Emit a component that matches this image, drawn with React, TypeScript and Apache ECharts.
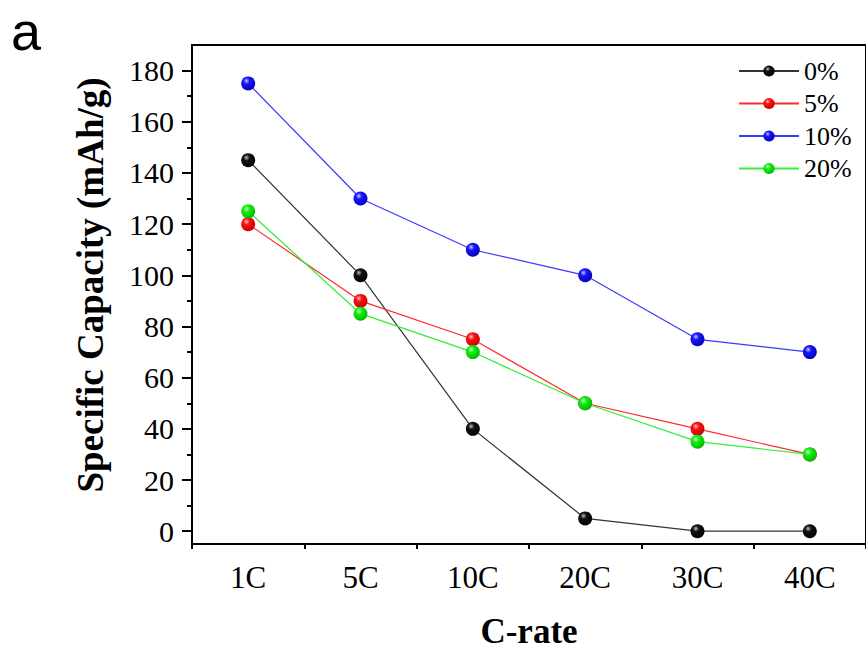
import React, { useEffect, useRef } from "react";
import * as echarts from "echarts";

const categories = ["1C", "5C", "10C", "20C", "30C", "40C"];
const seriesNames = ["0%", "5%", "10%", "20%"];
const values0 = [145, 100, 40, 5, 0, 0];
const values5 = [120, 90, 75, 50, 40, 30];
const values10 = [175, 130, 110, 100, 75, 70];
const values20 = [125, 85, 70, 50, 35, 30];
const yMajorTicks = [0, 20, 40, 60, 80, 100, 120, 140, 160, 180];
const yMinorTicks = [10, 30, 50, 70, 90, 110, 130, 150, 170];

const SERIF = "'Liberation Serif', 'Times New Roman', serif";

function sphere(base: string, light: string, dark: string) {
  return {
    type: "radial",
    x: 0.38,
    y: 0.32,
    r: 0.75,
    colorStops: [
      { offset: 0, color: light },
      { offset: 0.3, color: base },
      { offset: 1, color: dark },
    ],
  };
}

export default function App() {
  const ref = useRef<HTMLDivElement>(null);
  useEffect(() => {
    if (!ref.current) return;
    const chart = echarts.init(ref.current, null, { renderer: "svg" });
    const colors = [
      { line: "#333333", fill: sphere("#111111", "#bbbbbb", "#000000") },
      { line: "#ff2a2a", fill: sphere("#ff1010", "#ffc8c8", "#c00000") },
      { line: "#3a3aff", fill: sphere("#1515ff", "#c8c8ff", "#0000b0") },
      { line: "#33ee33", fill: sphere("#10f010", "#d0ffd0", "#00b000") },
    ];
    const data = [values0, values5, values10, values20];
    chart.setOption({
      animation: false,
      grid: {
        left: 192,
        top: 45,
        right: -2,
        bottom: 110,
        show: true,
        borderColor: "#000",
        borderWidth: 2,
      },
      graphic: [
        {
          type: "text",
          left: 11,
          top: 4,
          style: {
            text: "a",
            font: "54px 'Liberation Sans', Arial, sans-serif",
            fill: "#000",
          },
        },
      ],
      legend: {
        orient: "vertical",
        left: 733,
        top: 53,
        itemWidth: 60,
        itemHeight: 14,
        itemGap: 6.5,
        data: seriesNames,
        textStyle: {
          fontFamily: SERIF,
          fontSize: 26,
          lineHeight: 26,
          color: "#000",
        },
      },
      xAxis: [
        {
          type: "category",
          data: categories,
          boundaryGap: true,
          position: "bottom",
          axisLine: { onZero: false, lineStyle: { color: "#000", width: 2 } },
          axisTick: { alignWithLabel: true, length: 10, lineStyle: { color: "#000", width: 2 } },
          axisLabel: { fontFamily: SERIF, fontSize: 31, color: "#000", margin: 18 },
          name: "C-rate",
          nameLocation: "middle",
          nameGap: 70,
          nameTextStyle: { fontFamily: SERIF, fontSize: 35, fontWeight: "bold", color: "#000" },
          splitLine: { show: false },
        },
        {
          type: "category",
          data: categories,
          boundaryGap: true,
          position: "bottom",
          axisLine: { show: false, onZero: false },
          axisTick: { show: true, length: 5, lineStyle: { color: "#000", width: 2 } },
          axisLabel: { show: false },
          splitLine: { show: false },
        },
      ],
      yAxis: [
        {
          type: "value",
          min: -5,
          max: 190,
          axisLine: { show: true, onZero: false, lineStyle: { color: "#000", width: 2 } },
          axisTick: { show: true, length: 10, customValues: yMajorTicks, lineStyle: { color: "#000", width: 2 } },
          axisLabel: { customValues: yMajorTicks, fontFamily: SERIF, fontSize: 30, color: "#000", margin: 18 },
          splitLine: { show: false },
          name: "Specific Capacity (mAh/g)",
          nameLocation: "middle",
          nameGap: 83,
          nameTextStyle: {
            fontFamily: SERIF,
            fontSize: 37,
            fontWeight: "bold",
            color: "#000",
            padding: [0, 0, 0, 19],
          },
        },
        {
          type: "value",
          min: -5,
          max: 190,
          position: "left",
          axisLine: { show: false, onZero: false },
          axisTick: { show: true, length: 5, customValues: yMinorTicks, lineStyle: { color: "#000", width: 2 } },
          axisLabel: { show: false },
          splitLine: { show: false },
        },
      ],
      series: seriesNames.map((name, i) => ({
        name,
        type: "line",
        data: data[i],
        xAxisIndex: 0,
        yAxisIndex: 0,
        symbol: "circle",
        symbolSize: 14,
        itemStyle: { color: colors[i].fill, borderWidth: 0 },
        lineStyle: { color: colors[i].line, width: 1.2 },
        z: 2 + i,
      })),
    });
    return () => chart.dispose();
  }, []);
  return (
    <div
      ref={ref}
      style={{ position: "fixed", left: 0, top: 0, width: 866, height: 654, background: "#fff" }}
    />
  );
}
